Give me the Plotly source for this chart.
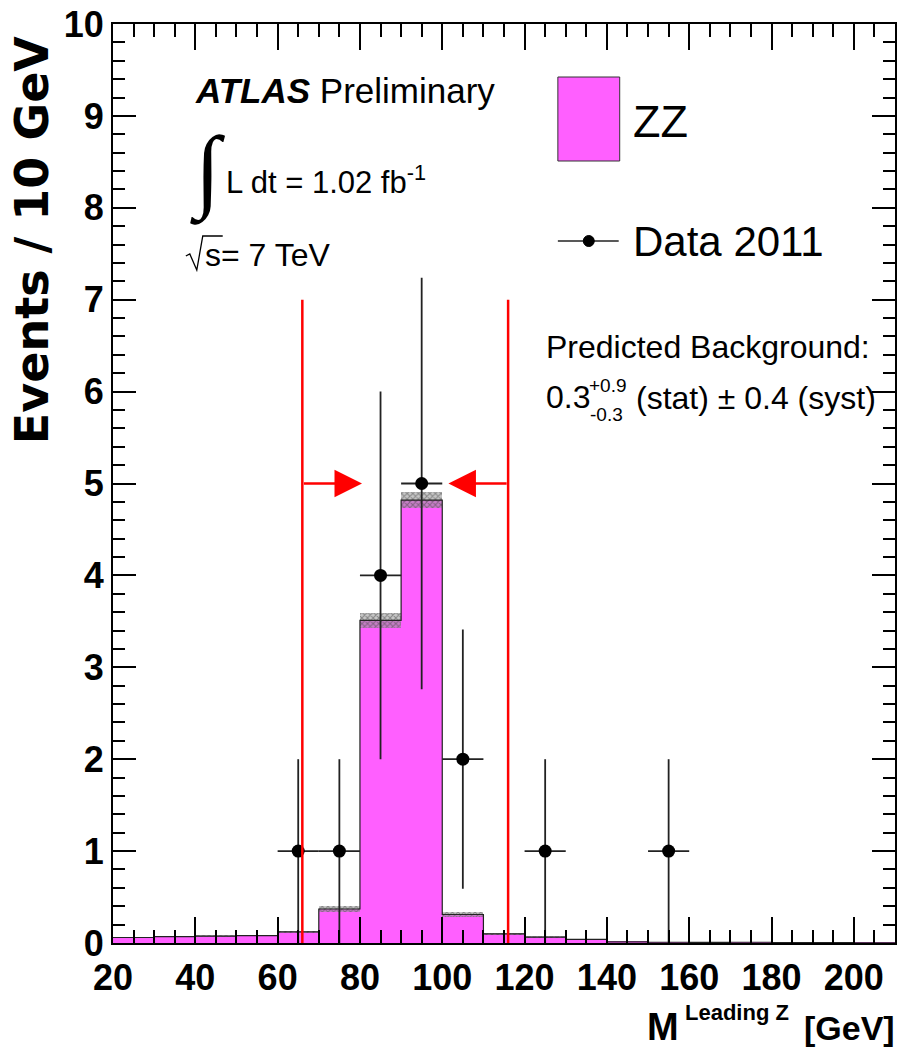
import plotly.graph_objects as go

# ---------------- data ----------------
bin_edges = list(range(20, 220, 10))            # 20..210
zz_values = [0.06, 0.07, 0.075, 0.08, 0.12, 0.37, 3.51, 4.82, 0.31, 0.10,
             0.065, 0.04, 0.012, 0.008, 0.006, 0.008, 0.004, 0.003, 0.002]
zz_errors = [0.008, 0.008, 0.008, 0.008, 0.01, 0.03, 0.08, 0.085, 0.03, 0.01,
             0.008, 0.006, 0.003, 0.002, 0.002, 0.002, 0.001, 0.001, 0.001]
data_x = [65, 75, 85, 95, 105, 125, 155]
data_y = [1, 1, 4, 5, 2, 1, 1]
data_err = [1.0, 1.0, 2.0, 2.24, 1.41, 1.0, 1.0]
cut_window = [66, 116]
cut_line_top = 7.0
arrow_y = 5
arrow_len = 14.5

PINK = "#ff5fff"
W, H = 901, 1050
L, R, T, B = 113, 4, 24, 107
PW, PH = W - L - R, H - T - B

def px(x):
    return (x - L) / PW

def py(y):
    return (H - B - y) / PH

centers = [(bin_edges[i] + bin_edges[i + 1]) / 2 for i in range(len(zz_values))]
widths = [bin_edges[i + 1] - bin_edges[i] for i in range(len(zz_values))]

fig = go.Figure()

# ZZ histogram fill
fig.add_trace(go.Bar(x=centers, y=zz_values, width=widths,
                     marker=dict(color=PINK, line=dict(width=0)),
                     showlegend=False, hoverinfo="skip"))
# uncertainty band (hatched)
fig.add_trace(go.Bar(x=centers, y=[2 * e for e in zz_errors],
                     base=[v - e for v, e in zip(zz_values, zz_errors)],
                     width=widths,
                     marker=dict(color="rgba(0,0,0,0)",
                                 line=dict(width=0),
                                 pattern=dict(shape="x", fgcolor="#444444",
                                              bgcolor="rgba(150,150,150,0.55)",
                                              size=4, solidity=0.45)),
                     showlegend=False, hoverinfo="skip"))
# outline step
fig.add_trace(go.Scatter(x=bin_edges, y=zz_values + [zz_values[-1]],
                         mode="lines", line=dict(color="#222222", width=1.2, shape="hv"),
                         showlegend=False, hoverinfo="skip"))
# data points
fig.add_trace(go.Scatter(x=data_x, y=data_y, mode="markers",
                         marker=dict(color="black", size=13),
                         error_y=dict(type="data", array=data_err, color="#222222",
                                      thickness=1.8, width=0),
                         error_x=dict(type="data", array=[5] * len(data_x),
                                      color="#222222", thickness=1.8, width=0),
                         showlegend=False))

fig.update_layout(barmode="overlay", bargap=0)

shapes = []
for c in cut_window:
    shapes.append(dict(type="line", xref="x", yref="y", x0=c, x1=c, y0=0,
                       y1=cut_line_top, line=dict(color="red", width=2.5)))
# legend box for ZZ
shapes.append(dict(type="rect", xref="paper", yref="paper",
                   x0=px(559), x1=px(621), y0=py(161), y1=py(77),
                   fillcolor=PINK, line=dict(color="#333333", width=1)))
# legend for data
shapes.append(dict(type="line", xref="paper", yref="paper",
                   x0=px(559), x1=px(620), y0=py(241), y1=py(241),
                   line=dict(color="#222222", width=1.5)))
shapes.append(dict(type="circle", xref="paper", yref="paper",
                   x0=px(584.5), x1=px(595.5), y0=py(246.5), y1=py(235.5),
                   fillcolor="black", line=dict(color="black", width=1)))
# sqrt sign drawn as a path with overline
shapes.append(dict(type="path", xref="paper", yref="paper",
                   path="M {} {} L {} {} L {} {} L {} {} L {} {}".format(
                       px(186), py(256), px(190), py(254), px(197), py(270),
                       px(203), py(236), px(223), py(236)),
                   line=dict(color="black", width=1.3)))

annotations = []
FONT = "Liberation Sans"

def txt(text, x, y, size, xanchor="left", yanchor="middle", family=FONT, **kw):
    annotations.append(dict(text=text, x=px(x), y=py(y), xref="paper", yref="paper",
                            showarrow=False, xanchor=xanchor, yanchor=yanchor,
                            font=dict(family=family, size=size, color="black"), **kw))

# arrows
annotations.append(dict(x=cut_window[0] + arrow_len, y=arrow_y, ax=cut_window[0], ay=arrow_y,
                        xref="x", yref="y", axref="x", ayref="y", text="",
                        showarrow=True, arrowhead=2, arrowsize=2.2, arrowwidth=2.5,
                        arrowcolor="red"))
annotations.append(dict(x=cut_window[1] - arrow_len, y=arrow_y, ax=cut_window[1], ay=arrow_y,
                        xref="x", yref="y", axref="x", ayref="y", text="",
                        showarrow=True, arrowhead=2, arrowsize=2.2, arrowwidth=2.5,
                        arrowcolor="red"))

txt("<b><i>ATLAS</i></b> Preliminary", 193, 90, 35)
txt("∫", 188, 172, 92, family="Liberation Serif")
txt("L dt = 1.02 fb<sup>-1</sup>", 224, 180, 31)
txt("s= 7 TeV", 203, 255, 32, family=FONT)
txt("ZZ", 632, 122, 45)
txt("Data 2011", 632, 242, 42)
txt("Predicted Background:", 545, 347, 32)
txt("0.3", 545, 397, 32)
txt("+0.9", 588, 385, 19)
txt("-0.3", 589, 414, 19)
txt("(stat) ± 0.4 (syst)", 635, 398, 32)

# axis titles
txt("<b>Events / 10 GeV</b>", 32, 240, 46, xanchor="center", family="DejaVu Sans",
    textangle=-90)
txt("<b>M</b>", 646, 1027, 38)
txt("<b>Leading Z</b>", 684, 1012, 22)
txt("<b>[GeV]</b>", 899, 1028, 34, xanchor="right")

fig.update_layout(
    width=W, height=H,
    margin=dict(l=L, r=R, t=T, b=B),
    plot_bgcolor="white", paper_bgcolor="white",
    shapes=shapes, annotations=annotations,
    xaxis=dict(range=[20, 210], tick0=20, dtick=20, ticks="inside", ticklen=26,
               tickwidth=1.5, tickcolor="black", showline=True, linecolor="black",
               linewidth=2, mirror="ticks", showgrid=False, zeroline=False,
               tickfont=dict(family=FONT, size=36, color="black", weight="bold"),
               ticklabelstandoff=2,
               minor=dict(dtick=5, ticks="inside", ticklen=13, tickwidth=1.5,
                          tickcolor="black", showgrid=False)),
    yaxis=dict(range=[0, 10], tick0=0, dtick=1, ticks="inside", ticklen=23,
               tickwidth=1.5, tickcolor="black", showline=True, linecolor="black",
               linewidth=2, mirror="ticks", showgrid=False, zeroline=False,
               tickfont=dict(family=FONT, size=36, color="black", weight="bold"),
               ticklabelstandoff=0,
               minor=dict(dtick=0.2, ticks="inside", ticklen=12, tickwidth=1.5,
                          tickcolor="black", showgrid=False)),
)

fig.write_html("out.html")
